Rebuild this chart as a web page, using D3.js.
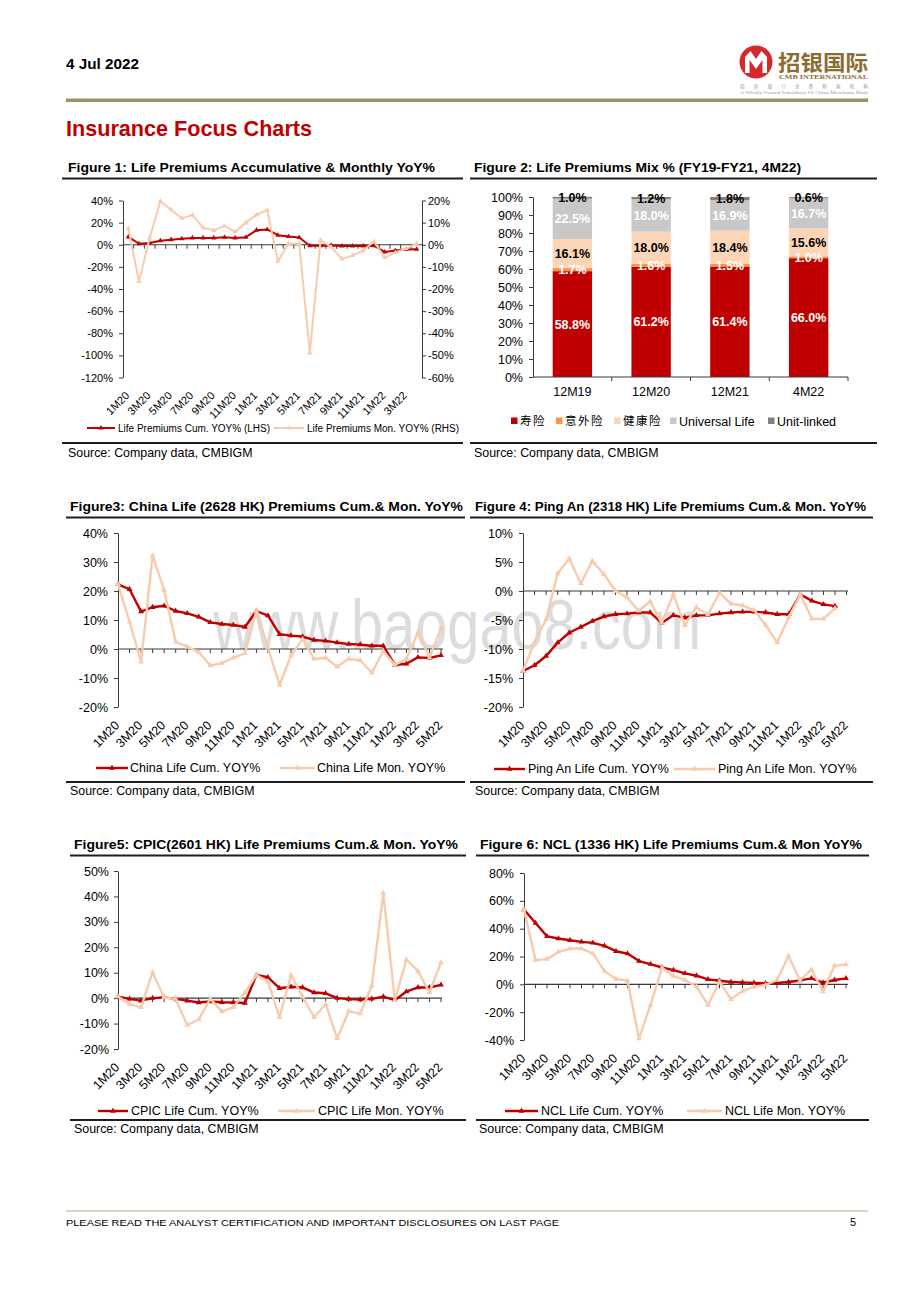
<!DOCTYPE html>
<html><head><meta charset="utf-8">
<script src="https://cdn.jsdelivr.net/npm/d3@7/dist/d3.min.js"></script>
<style>html,body{margin:0;padding:0;background:#fff;}svg{display:block;}</style>
</head><body>
<svg id="page" width="920" height="1302"></svg>
<script>
// ---------------- DATA ----------------
const months = ["1M20","2M20","3M20","4M20","5M20","6M20","7M20","8M20","9M20","10M20","11M20","12M20",
  "1M21","2M21","3M21","4M21","5M21","6M21","7M21","8M21","9M21","10M21","11M21","12M21",
  "1M22","2M22","3M22","4M22","5M22"];
const fig1Months = months.slice(0, 28);

// Figure 1: industry life premiums (Cum on LHS, Mon on RHS)
const lifeCum = [7.1,0.9,1.5,3.7,4.6,5.5,6.2,6.2,6.2,6.8,6.2,6.8,13.2,13.8,8.6,7.4,6.5,-0.9,-0.9,-0.6,-1.2,-1.2,-1.2,-0.9,-6.5,-5.2,-4.3,-4.0];
const lifeMon = [7.4,-16.6,3.1,19.7,15.8,12.0,13.4,7.7,6.5,8.5,5.8,10.0,13.5,15.7,-7.4,0.5,0.5,-48.9,2.0,-1.0,-6.4,-4.9,-2.5,1.5,-5.8,-3.5,-1.8,0.5];
const fig1TicksL = [40,20,0,-20,-40,-60,-80,-100,-120];
const fig1TicksR = [20,10,0,-10,-20,-30,-40,-50,-60];

// Figure 2: life premiums mix
const mixCats = ["12M19","12M20","12M21","4M22"];
const mixSeries = ["寿险","意外险","健康险","Universal Life","Unit-linked"];
const mixLife = [58.8,61.2,61.4,66.0];
const mixAccident = [1.7,1.6,1.5,1.0];
const mixHealth = [16.1,18.0,18.4,15.6];
const mixUniversal = [22.5,18.0,16.9,16.7];
const mixUnitLinked = [1.0,1.2,1.8,0.6];
const mixTicks = [0,10,20,30,40,50,60,70,80,90,100];

// Figure 3: China Life
const chinaCum = [22.3,20.6,12.9,14.4,14.9,13.1,12.3,11.1,9.2,8.6,8.3,7.6,13.1,11.5,5.1,4.6,4.3,3.1,2.8,2.2,1.7,1.5,1.1,1.1,-5.5,-5.1,-2.9,-3.1,-2.2];
const chinaMon = [22.3,9.4,-4.4,32.2,20.3,2.5,0.8,-1.1,-5.7,-4.9,-3.0,-1.5,13.1,0.5,-12.4,-2.3,3.4,-3.4,-3.0,-6.1,-3.4,-3.9,-8.2,-0.7,-5.5,-3.4,5.7,-3.0,7.1];
const chinaTicks = [40,30,20,10,0,-10,-20];

// Figure 4: Ping An (data to 4M22)
const pingCum = [-13.8,-12.8,-11.2,-8.9,-7.2,-6.2,-5.2,-4.4,-4.0,-3.9,-3.7,-3.7,-5.5,-4.2,-4.6,-4.2,-4.2,-3.9,-3.7,-3.6,-3.6,-3.7,-4.0,-4.0,-0.6,-1.7,-2.3,-2.6];
const pingMon = [-13.8,-8.8,-4.9,3.0,5.6,1.3,5.2,2.9,0.0,-1.1,-3.4,-1.8,-5.5,-0.6,-5.9,-2.8,-4.1,-0.3,-2.2,-2.5,-3.3,-5.9,-8.9,-4.5,-0.6,-4.8,-4.8,-3.0];
const pingTicks = [10,5,0,-5,-10,-15,-20];

// Figure 5: CPIC
const cpicCum = [0.6,-0.3,-1.0,0.0,0.3,-0.3,-1.0,-1.7,-1.3,-1.6,-1.7,-1.9,9.1,8.2,3.9,4.5,4.2,2.2,1.9,0.0,-0.4,-0.6,-0.3,0.6,-0.8,2.6,4.2,4.2,5.2];
const cpicMon = [0.6,-2.3,-3.6,10.1,0.3,-0.3,-10.6,-8.4,-0.3,-5.2,-3.6,2.2,9.1,6.5,-7.5,9.1,0.6,-7.5,-2.3,-15.8,-5.2,-6.1,4.9,41.3,-0.8,15.2,10.6,2.3,14.0];
const cpicTicks = [50,40,30,20,10,0,-10,-20];

// Figure 6: NCL
const nclCum = [53.8,44.0,34.5,32.9,31.7,30.5,29.8,27.6,23.8,22.1,16.7,14.5,12.1,10.2,7.9,6.2,3.6,2.6,1.7,1.4,1.0,0.7,1.0,1.7,2.8,4.3,1.2,3.1,4.3];
const nclMon = [53.8,17.4,18.1,23.3,25.7,25.7,22.1,9.5,3.8,2.6,-39.0,-14.8,11.9,6.0,3.1,-1.7,-14.8,1.9,-10.7,-4.8,-1.7,-0.5,3.1,20.5,2.8,10.7,-5.2,13.3,14.3];
const nclTicks = [80,60,40,20,0,-20,-40];

// ---------------- DRAWING ----------------
const svg = d3.select("#page");
const F = "'Liberation Sans', Arial, Helvetica, sans-serif";
const NARROW = "'Liberation Sans Narrow', 'Arial Narrow', 'Liberation Sans', Arial, sans-serif";
const CJK = "'Noto Sans CJK SC', 'Noto Sans', sans-serif";
const CUM_C = "#C00000", MON_C = "#F8CBAD", AX_C = "#3a3a3a";
const GOLD = "#8C6B30";

svg.append("rect").attr("width", 920).attr("height", 1302).attr("fill", "#fff");

// watermark
svg.append("text").attr("x", 213).attr("y", 649).text("www.baogao8.com")
  .attr("font-family", F).attr("font-size", 70).attr("textLength", 488)
  .attr("lengthAdjust", "spacingAndGlyphs").attr("fill", "#dcdcdc");

// header
svg.append("text").attr("x", 66).attr("y", 69).text("4 Jul 2022")
  .attr("font-family", NARROW).attr("font-weight", "bold").attr("font-size", 15)
  .attr("textLength", 73).attr("lengthAdjust", "spacingAndGlyphs").attr("fill", "#000");

// logo
const logo = svg.append("g");
logo.append("circle").attr("cx", 756).attr("cy", 62).attr("r", 16.5).attr("fill", "#D42A2A");
logo.append("path").attr("d", "M745,73 L745,57 L750.5,51 L756,59 L761.5,51 L767,57 L767,73 L762.5,73 L762.5,60 L756,69 L749.5,60 L749.5,73 Z").attr("fill", "#fff");
logo.append("text").attr("x", 778).attr("y", 70).text("招银国际")
  .attr("font-family", CJK).attr("font-weight", "bold").attr("font-size", 21)
  .attr("textLength", 90).attr("lengthAdjust", "spacingAndGlyphs").attr("fill", GOLD);
logo.append("text").attr("x", 779).attr("y", 78.5).text("CMB INTERNATIONAL")
  .attr("font-family", "'Liberation Serif', serif").attr("font-weight", "bold").attr("font-size", 7)
  .attr("textLength", 89).attr("lengthAdjust", "spacingAndGlyphs").attr("fill", GOLD);
logo.append("text").attr("x", 740).attr("y", 88).text("招 商 银 行 全 资 附 属 机 构")
  .attr("font-family", CJK).attr("font-size", 4.5)
  .attr("textLength", 128).attr("lengthAdjust", "spacing").attr("fill", "#999");
logo.append("text").attr("x", 740).attr("y", 94).text("A Wholly Owned Subsidiary Of China Merchants Bank")
  .attr("font-family", "'Liberation Serif', serif").attr("font-size", 4.5)
  .attr("textLength", 128).attr("lengthAdjust", "spacingAndGlyphs").attr("fill", "#999");

// gold rule
svg.append("rect").attr("x", 66).attr("y", 98.5).attr("width", 802).attr("height", 3.5).attr("fill", "#9E9262");

// section title
svg.append("text").attr("x", 66).attr("y", 136).text("Insurance Focus Charts")
  .attr("font-family", NARROW).attr("font-weight", "bold").attr("font-size", 22)
  .attr("textLength", 246).attr("lengthAdjust", "spacingAndGlyphs").attr("fill", "#C00000");

// footer
svg.append("rect").attr("x", 66).attr("y", 1210.5).attr("width", 802).attr("height", 1).attr("fill", "#B7AD86");
svg.append("text").attr("x", 66).attr("y", 1226).text("PLEASE READ THE ANALYST CERTIFICATION AND IMPORTANT DISCLOSURES ON LAST PAGE")
  .attr("font-family", F).attr("font-size", 9.6).attr("textLength", 493).attr("lengthAdjust", "spacingAndGlyphs");
svg.append("text").attr("x", 856).attr("y", 1226).text("5").attr("text-anchor", "end")
  .attr("font-family", F).attr("font-size", 11);

function frame(f) {
  svg.append("text").attr("x", f.tx).attr("y", f.ty).text(f.title)
    .attr("font-family", F).attr("font-weight", "bold").attr("font-size", 13)
    .attr("textLength", f.tw).attr("lengthAdjust", "spacingAndGlyphs");
  svg.append("rect").attr("x", f.rx0).attr("y", f.r1 - 1).attr("width", f.rx1 - f.rx0).attr("height", 2).attr("fill", "#1e1e1e");
  svg.append("rect").attr("x", f.rx0).attr("y", f.r2 - 1).attr("width", f.rx1 - f.rx0).attr("height", 2).attr("fill", "#1e1e1e");
  svg.append("text").attr("x", f.sx).attr("y", f.sy).text("Source: Company data, CMBIGM")
    .attr("font-family", F).attr("font-size", 12.4);
}

function styleAxis(sel, fs) {
  sel.attr("font-family", F).attr("font-size", fs);
  sel.selectAll("path.domain").attr("stroke", AX_C);
  sel.selectAll(".tick line").attr("stroke", AX_C);
  sel.selectAll(".tick text").attr("fill", "#000");
}

function lineChart(o) {
  const g = svg.append("g");
  const yL = d3.scaleLinear().domain(o.yDomain).range(o.yRange);
  const yR = o.yDomainR ? d3.scaleLinear().domain(o.yDomainR).range(o.yRange) : null;
  let x, xPos;
  if (o.band) {
    x = d3.scaleBand().domain(o.cats).range([o.axisX0, o.axisX1]);
    xPos = c => x(c) + x.bandwidth() / 2;
  } else {
    x = d3.scalePoint().domain(o.cats).range([o.axisX0, o.xLast]);
    xPos = c => x(c);
  }
  const y0 = yL(0);
  const axL = d3.axisLeft(yL).tickValues(o.ticksL).tickSize(4).tickSizeOuter(0)
    .tickPadding(o.padL).tickFormat(d => d + "%");
  styleAxis(g.append("g").attr("transform", `translate(${o.axisX0},0)`).call(axL), o.fs);
  if (yR) {
    const axR = d3.axisRight(yR).tickValues(o.ticksR).tickSize(4).tickSizeOuter(0)
      .tickPadding(o.padR).tickFormat(d => d + "%");
    styleAxis(g.append("g").attr("transform", `translate(${o.axisX1},0)`).call(axR), o.fs);
  }
  g.append("line").attr("x1", o.axisX0).attr("x2", o.axisX1).attr("y1", y0).attr("y2", y0)
    .attr("stroke", AX_C).attr("stroke-width", 1.2);
  const tickXs = o.band ? o.cats.slice(1).map(c => x(c)) : o.cats.slice(1).map(c => x(c));
  g.append("g").selectAll("line").data(tickXs).join("line")
    .attr("x1", d => d).attr("x2", d => d).attr("y1", y0).attr("y2", y0 + 4).attr("stroke", AX_C);
  const bottom = o.yRange[1];
  g.append("g").selectAll("text").data(o.cats.filter((c, i) => i % 2 === 0)).join("text")
    .attr("transform", c => `translate(${xPos(c) + o.lblDx},${bottom + o.lblDy}) rotate(-45)`)
    .attr("text-anchor", "end").attr("dy", "0.35em")
    .attr("font-family", F).attr("font-size", o.fs).text(c => c);
  const series = [{ data: o.cum, color: CUM_C, y: yL }, { data: o.mon, color: MON_C, y: yR || yL }];
  series.forEach(s => {
    const pts = s.data.map((v, i) => [xPos(o.cats[i]), s.y(v)]);
    g.append("path").attr("d", d3.line()(pts)).attr("fill", "none").attr("stroke", s.color)
      .attr("stroke-width", o.lw).attr("stroke-linejoin", "round");
    g.append("g").selectAll("path").data(pts).join("path")
      .attr("transform", p => `translate(${p[0]},${p[1]})`)
      .attr("d", d3.symbol(d3.symbolTriangle, o.ms)).attr("fill", s.color);
  });
  o.legend.forEach((l, k) => {
    const c = k === 0 ? CUM_C : MON_C;
    g.append("line").attr("x1", l.x0).attr("x2", l.x1).attr("y1", o.legendY).attr("y2", o.legendY)
      .attr("stroke", c).attr("stroke-width", o.lw);
    g.append("path").attr("transform", `translate(${(l.x0 + l.x1) / 2},${o.legendY})`)
      .attr("d", d3.symbol(d3.symbolTriangle, o.ms)).attr("fill", c);
    g.append("text").attr("x", l.tx).attr("y", o.legendY).attr("dy", "0.35em")
      .attr("font-family", F).attr("font-size", o.lfs).text(l.label);
  });
}

// ---- Figure 1 ----
frame({ title: "Figure 1: Life Premiums Accumulative & Monthly YoY%", tx: 68, ty: 172, tw: 367,
  rx0: 62, rx1: 463, r1: 178.5, r2: 443, sx: 68, sy: 457 });
lineChart({ cats: fig1Months, band: true, axisX0: 123, axisX1: 422,
  yDomain: [40, -120], yDomainR: [20, -60], yRange: [200.5, 377.5],
  ticksL: fig1TicksL, ticksR: fig1TicksR, padL: 6, padR: 2, fs: 11,
  cum: lifeCum, mon: lifeMon, lw: 2, ms: 12, lblDx: -1, lblDy: 16,
  legendY: 428, lfs: 10,
  legend: [{ x0: 87, x1: 115, tx: 118, label: "Life Premiums Cum. YOY% (LHS)" },
           { x0: 274, x1: 304, tx: 307, label: "Life Premiums Mon. YOY% (RHS)" }] });

// ---- Figure 2 ----
frame({ title: "Figure 2: Life Premiums Mix % (FY19-FY21, 4M22)", tx: 474, ty: 172, tw: 327,
  rx0: 470, rx1: 877, r1: 178.5, r2: 443, sx: 474, sy: 457 });
(function () {
  const g = svg.append("g");
  const colors = ["#C00000", "#F79646", "#FBD5B5", "#C8C8C8", "#808080"];
  const labelColors = ["#fff", "#fff", "#000", "#fff", "#000"];
  const values = [mixLife, mixAccident, mixHealth, mixUniversal, mixUnitLinked];
  const rows = mixCats.map((c, i) => {
    const r = { cat: c };
    mixSeries.forEach((s, k) => { r[s] = values[k][i]; });
    return r;
  });
  const stacked = d3.stack().keys(mixSeries)(rows);
  const y = d3.scaleLinear().domain([0, 100]).range([377, 197]);
  const x = d3.scaleBand().domain(mixCats).range([533, 848]).paddingInner(0.5).paddingOuter(0.25);
  const ax = d3.axisLeft(y).tickValues(mixTicks).tickSize(4).tickSizeOuter(0).tickPadding(6).tickFormat(d => d + "%");
  styleAxis(g.append("g").attr("transform", "translate(533,0)").call(ax), 12.5);
  stacked.forEach((layer, k) => {
    g.append("g").selectAll("rect").data(layer).join("rect")
      .attr("x", d => x(d.data.cat)).attr("width", x.bandwidth())
      .attr("y", d => y(d[1])).attr("height", d => y(d[0]) - y(d[1]))
      .attr("fill", colors[k]);
  });
  g.append("line").attr("x1", 533).attr("x2", 848).attr("y1", 377).attr("y2", 377).attr("stroke", AX_C).attr("stroke-width", 1.2);
  g.append("g").selectAll("line").data(mixCats).join("line")
    .attr("x1", c => x(c) + x.bandwidth() + x.step() * 0.25).attr("x2", c => x(c) + x.bandwidth() + x.step() * 0.25)
    .attr("y1", 377).attr("y2", 381).attr("stroke", AX_C);
  g.append("g").selectAll("text").data(mixCats).join("text")
    .attr("x", c => x(c) + x.bandwidth() / 2).attr("y", 392).attr("dy", "0.35em")
    .attr("text-anchor", "middle").attr("font-family", F).attr("font-size", 12.5).text(c => c);
  stacked.forEach((layer, k) => {
    g.append("g").selectAll("text").data(layer).join("text")
      .attr("x", d => x(d.data.cat) + x.bandwidth() / 2).attr("y", d => y((d[0] + d[1]) / 2))
      .attr("dy", "0.36em").attr("text-anchor", "middle")
      .attr("font-family", F).attr("font-weight", "bold").attr("font-size", 12.5)
      .attr("fill", labelColors[k]).text(d => (d[1] - d[0]).toFixed(1) + "%");
  });
  // legend
  const lx = [{ sq: 511, tx: 520 }, { sq: 556, tx: 565 }, { sq: 614, tx: 623 }, { sq: 670, tx: 679 }, { sq: 768, tx: 777 }];
  mixSeries.forEach((s, k) => {
    g.append("rect").attr("x", lx[k].sq).attr("y", 417.5).attr("width", 6.5).attr("height", 6.5).attr("fill", colors[k]);
    const t = g.append("text").attr("x", lx[k].tx).attr("y", 421).attr("dy", "0.36em").text(s)
      .attr("font-size", 12.5).attr("fill", "#000");
    if (k < 3) t.attr("font-family", CJK).attr("font-size", 11.5).attr("letter-spacing", 1.5);
    else t.attr("font-family", F);
  });
})();

// ---- Figure 3 ----
frame({ title: "Figure3: China Life (2628 HK) Premiums Cum.& Mon. YoY%", tx: 70, ty: 510.5, tw: 393,
  rx0: 66, rx1: 465, r1: 517.5, r2: 782, sx: 70, sy: 795 });
lineChart({ cats: months, axisX0: 118, xLast: 441, axisX1: 443,
  yDomain: [40, -20], yRange: [533, 707], ticksL: chinaTicks, padL: 6, fs: 12.5,
  cum: chinaCum, mon: chinaMon, lw: 2.4, ms: 15, lblDx: -1, lblDy: 16,
  legendY: 768, lfs: 12.5,
  legend: [{ x0: 96, x1: 128, tx: 130, label: "China Life Cum. YOY%" },
           { x0: 280, x1: 315, tx: 317, label: "China Life Mon. YOY%" }] });

// ---- Figure 4 ----
frame({ title: "Figure 4: Ping An (2318 HK) Life Premiums Cum.& Mon. YoY%", tx: 475, ty: 510.5, tw: 391,
  rx0: 470, rx1: 873, r1: 517.5, r2: 782, sx: 475, sy: 795 });
lineChart({ cats: months, axisX0: 523, xLast: 846.6, axisX1: 848,
  yDomain: [10, -20], yRange: [533, 707], ticksL: pingTicks, padL: 6, fs: 12.5,
  cum: pingCum, mon: pingMon, lw: 2.4, ms: 15, lblDx: -1, lblDy: 16,
  legendY: 769, lfs: 12.5,
  legend: [{ x0: 494, x1: 525, tx: 528, label: "Ping An Life Cum. YOY%" },
           { x0: 674, x1: 715, tx: 718, label: "Ping An Life Mon. YOY%" }] });

// ---- Figure 5 ----
frame({ title: "Figure5: CPIC(2601 HK) Life Premiums Cum.& Mon. YoY%", tx: 74, ty: 848.5, tw: 384,
  rx0: 70, rx1: 466, r1: 855.5, r2: 1120, sx: 74, sy: 1133 });
lineChart({ cats: months, axisX0: 118, xLast: 441, axisX1: 442,
  yDomain: [50, -20], yRange: [871, 1049], ticksL: cpicTicks, padL: 5, fs: 12.5,
  cum: cpicCum, mon: cpicMon, lw: 2.4, ms: 15, lblDx: -1, lblDy: 16,
  legendY: 1111, lfs: 12.5,
  legend: [{ x0: 98, x1: 128, tx: 131, label: "CPIC Life Cum. YOY%" },
           { x0: 278, x1: 315, tx: 318, label: "CPIC Life Mon. YOY%" }] });

// ---- Figure 6 ----
frame({ title: "Figure 6: NCL (1336 HK) Life Premiums Cum.& Mon YoY%", tx: 480, ty: 848.5, tw: 382,
  rx0: 476, rx1: 869, r1: 855.5, r2: 1120, sx: 479, sy: 1133 });
lineChart({ cats: months, axisX0: 524, xLast: 846, axisX1: 848,
  yDomain: [80, -40], yRange: [873, 1040], ticksL: nclTicks, padL: 6, fs: 12.5,
  cum: nclCum, mon: nclMon, lw: 2.4, ms: 15, lblDx: -1, lblDy: 16,
  legendY: 1111, lfs: 12.5,
  legend: [{ x0: 505, x1: 538, tx: 541, label: "NCL Life Cum. YOY%" },
           { x0: 687, x1: 722, tx: 725, label: "NCL Life Mon. YOY%" }] });
</script>
</body></html>
